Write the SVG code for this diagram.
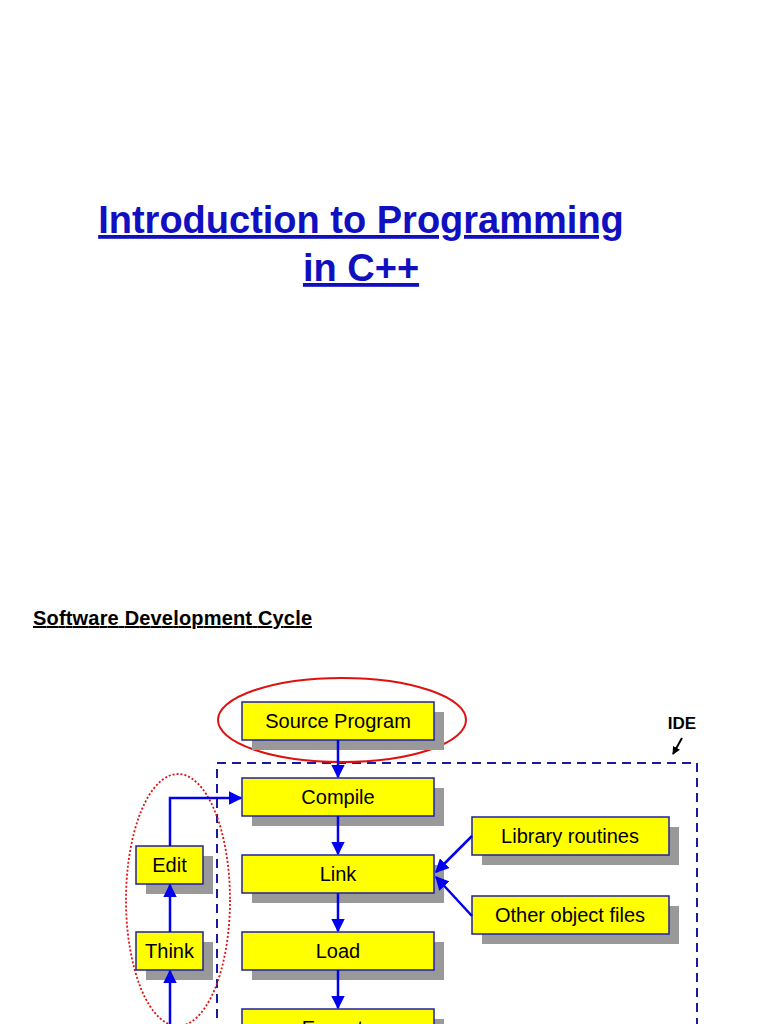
<svg xmlns="http://www.w3.org/2000/svg" width="768" height="1024" viewBox="0 0 768 1024">
<defs>
<style>
.box{fill:#ffff00;stroke:#2020a0;stroke-width:1.5}
.sh{fill:#999}
.t{font-family:"Liberation Sans",Arial,sans-serif;font-size:20px;text-anchor:middle;fill:#000}
.c{stroke:#0000ee;stroke-width:2.5;fill:none}
</style>
<marker id="ah" viewBox="0 0 10 10" refX="9" refY="5" markerWidth="5.5" markerHeight="5.5" orient="auto"><path d="M0,0L10,5L0,10z" fill="#0000ee"/></marker>
<marker id="ak" viewBox="0 0 10 10" refX="9" refY="5" markerWidth="4" markerHeight="4" orient="auto"><path d="M0,0L10,5L0,10z" fill="#000"/></marker>
</defs>
<rect width="768" height="1024" fill="#fff"/>
<text x="361" y="233" font-family="Liberation Sans,Arial,sans-serif" font-size="38" font-weight="bold" fill="#1010c0" text-anchor="middle" text-decoration="underline">Introduction to Programming</text>
<text x="361" y="281" font-family="Liberation Sans,Arial,sans-serif" font-size="38" font-weight="bold" fill="#1010c0" text-anchor="middle" text-decoration="underline">in C++</text>
<text x="33" y="625" font-family="Liberation Sans,Arial,sans-serif" font-size="20" font-weight="bold" fill="#000" text-decoration="underline" textLength="279">Software Development Cycle</text>
<rect x="217" y="763" width="480" height="300" fill="none" stroke="#1a1aa0" stroke-width="2" stroke-dasharray="9,6"/>
<text x="682" y="729" font-family="Liberation Sans,Arial,sans-serif" font-size="17" font-weight="bold" text-anchor="middle">IDE</text>
<line x1="682" y1="738" x2="673" y2="754" stroke="#000" stroke-width="2" marker-end="url(#ak)"/>
<ellipse cx="342" cy="720" rx="124" ry="42" fill="none" stroke="#e01010" stroke-width="2"/>
<ellipse cx="178" cy="900" rx="52" ry="126" fill="none" stroke="#e01010" stroke-width="1.8" stroke-dasharray="2,2"/>
<g id="source"><rect class="sh" x="252" y="712" width="192" height="38"/><rect class="box" x="242" y="702" width="192" height="38"/><text class="t" x="338" y="728">Source Program</text></g>
<g id="compile"><rect class="sh" x="252" y="788" width="192" height="38"/><rect class="box" x="242" y="778" width="192" height="38"/><text class="t" x="338" y="804">Compile</text></g>
<g id="link"><rect class="sh" x="252" y="865" width="192" height="38"/><rect class="box" x="242" y="855" width="192" height="38"/><text class="t" x="338" y="881">Link</text></g>
<g id="load"><rect class="sh" x="252" y="942" width="192" height="38"/><rect class="box" x="242" y="932" width="192" height="38"/><text class="t" x="338" y="958">Load</text></g>
<g id="execute"><rect class="sh" x="252" y="1019" width="192" height="38"/><rect class="box" x="242" y="1009" width="192" height="38"/><text class="t" x="338" y="1035">Execute</text></g>
<g id="edit"><rect class="sh" x="146" y="856" width="67" height="38"/><rect class="box" x="136" y="846" width="67" height="38"/><text class="t" x="169.500" y="872">Edit</text></g>
<g id="think"><rect class="sh" x="146" y="942" width="67" height="38"/><rect class="box" x="136" y="932" width="67" height="38"/><text class="t" x="169.500" y="958">Think</text></g>
<g id="library"><rect class="sh" x="482" y="827" width="197" height="38"/><rect class="box" x="472" y="817" width="197" height="38"/><text class="t" x="570" y="843">Library routines</text></g>
<g id="other"><rect class="sh" x="482" y="906" width="197" height="38"/><rect class="box" x="472" y="896" width="197" height="38"/><text class="t" x="570" y="922">Other object files</text></g>
<g id="connectors">
<line class="c" x1="338" y1="740" x2="338" y2="777" marker-end="url(#ah)"/>
<line class="c" x1="338" y1="816" x2="338" y2="854" marker-end="url(#ah)"/>
<line class="c" x1="338" y1="893" x2="338" y2="931" marker-end="url(#ah)"/>
<line class="c" x1="338" y1="970" x2="338" y2="1008" marker-end="url(#ah)"/>
<polyline class="c" points="170,846 170,798 241,798" marker-end="url(#ah)"/>
<line class="c" x1="170" y1="932" x2="170" y2="885" marker-end="url(#ah)"/>
<line class="c" x1="170" y1="1024" x2="170" y2="971" marker-end="url(#ah)"/>
<line class="c" x1="472" y1="836" x2="436" y2="872" marker-end="url(#ah)"/>
<line class="c" x1="472" y1="916" x2="436" y2="877" marker-end="url(#ah)"/>
</g>
</svg>
